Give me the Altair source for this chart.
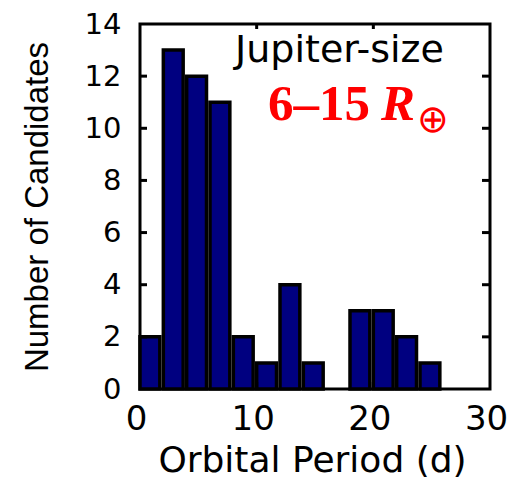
import altair as alt
import pandas as pd

# Histogram data (bin start, bin end, counts)
bin_start = [0, 2, 4, 6, 8, 10, 12, 14, 16, 18, 20, 22, 24, 26, 28]
bin_end = [2, 4, 6, 8, 10, 12, 14, 16, 18, 20, 22, 24, 26, 28, 30]
counts = [2, 13, 12, 11, 2, 1, 4, 1, 0, 3, 3, 2, 1, 0, 0]
y_ticks = [2, 4, 6, 8, 10, 12]
x_ticks = [10, 20]
x_tick_labels = [0, 10, 20, 30]
y_tick_labels = [0, 2, 4, 6, 8, 10, 12, 14]

df = pd.DataFrame({"start": bin_start, "end": bin_end, "count": counts})
ydf = pd.DataFrame({"v": y_ticks})
xdf = pd.DataFrame({"v": x_ticks})

W, H = 350, 365
FONT = "DejaVu Sans"

xscale = alt.Scale(domain=[0, 30], nice=False, zero=False)
yscale = alt.Scale(domain=[0, 14], nice=False)

xaxis = alt.Axis(
    values=x_tick_labels, title="Orbital Period (d)", grid=False, domain=False, ticks=False,
    labelFont=FONT, labelFontSize=34, labelColor="black", labelBaseline="alphabetic",
    labelPadding=40, labelFlush=False, labelOffset=-4,
    titleFont=FONT, titleFontSize=36, titleFontWeight="normal", titleColor="black",
    titleBaseline="alphabetic", titleX=172, titleY=82, titleAlign="center")
yaxis = alt.Axis(
    values=y_tick_labels, title="Number of Candidates", grid=False, domain=False, ticks=False,
    labelFont=FONT, labelFontSize=29, labelColor="black", labelPadding=19, labelFlush=False,
    titleFont="Liberation Sans", titleFontSize=33, titleFontWeight="normal",
    titleColor="black", titleAngle=270, titleBaseline="alphabetic",
    titleX=-93, titleY=H / 2, titleAlign="center")

bars = alt.Chart(df).transform_filter("datum.count > 0").mark_bar(
    color="#000080", stroke="black", strokeWidth=3.5, x2Offset=-3.5, strokeJoin="miter"
).encode(
    x=alt.X("start:Q", scale=xscale, axis=xaxis),
    x2="end:Q",
    y=alt.Y("count:Q", scale=yscale, axis=yaxis),
    y2=alt.datum(0),
)

left_ticks = alt.Chart(ydf).mark_rule(color="black", strokeWidth=3).encode(
    y=alt.Y("v:Q", scale=yscale, axis=yaxis), x=alt.value(0), x2=alt.value(7))
right_ticks = alt.Chart(ydf).mark_rule(color="black", strokeWidth=3).encode(
    y=alt.Y("v:Q", scale=yscale, axis=yaxis), x=alt.value(W), x2=alt.value(W - 8))
top_ticks = alt.Chart(xdf).mark_rule(color="black", strokeWidth=3).encode(
    x=alt.X("v:Q", scale=xscale, axis=xaxis), y=alt.value(0), y2=alt.value(5))
bottom_ticks = alt.Chart(xdf).mark_rule(color="black", strokeWidth=3).encode(
    x=alt.X("v:Q", scale=xscale, axis=xaxis), y=alt.value(H), y2=alt.value(H - 7))

label_df = pd.DataFrame({"t": ["Jupiter-size"]})
jup = alt.Chart(label_df).mark_text(
    font=FONT, fontSize=38, color="black", align="center", baseline="alphabetic"
).encode(text="t:N", x=alt.value(199.5), y=alt.value(37.7))

range_df = pd.DataFrame({"t": ["6–15"]})
rng = alt.Chart(range_df).mark_text(
    font="Liberation Serif", fontSize=51, fontWeight="bold", color="red",
    align="left", baseline="alphabetic"
).encode(text="t:N", x=alt.value(128), y=alt.value(96))

r_df = pd.DataFrame({"t": ["R"]})
rr = alt.Chart(r_df).mark_text(
    font="Liberation Serif", fontSize=51, fontWeight="bold", fontStyle="italic",
    color="red", align="left", baseline="alphabetic"
).encode(text="t:N", x=alt.value(241), y=alt.value(96))

e_df = pd.DataFrame({"t": ["⊕"]})
ee = alt.Chart(e_df).mark_text(
    font="DejaVu Sans", fontSize=38, color="red", align="center", baseline="middle"
).encode(text="t:N", x=alt.value(293), y=alt.value(97))

chart = alt.layer(
    bars, left_ticks, right_ticks, top_ticks, bottom_ticks, jup, rng, rr, ee
).properties(
    width=W, height=H,
    autosize=alt.AutoSizeParams(type="none"),
    padding={"left": 140, "top": 24, "right": 21, "bottom": 90},
    background="white",
).configure_view(stroke="black", strokeWidth=3)

chart.save("out.html", embed_options={"renderer": "svg", "actions": False})
